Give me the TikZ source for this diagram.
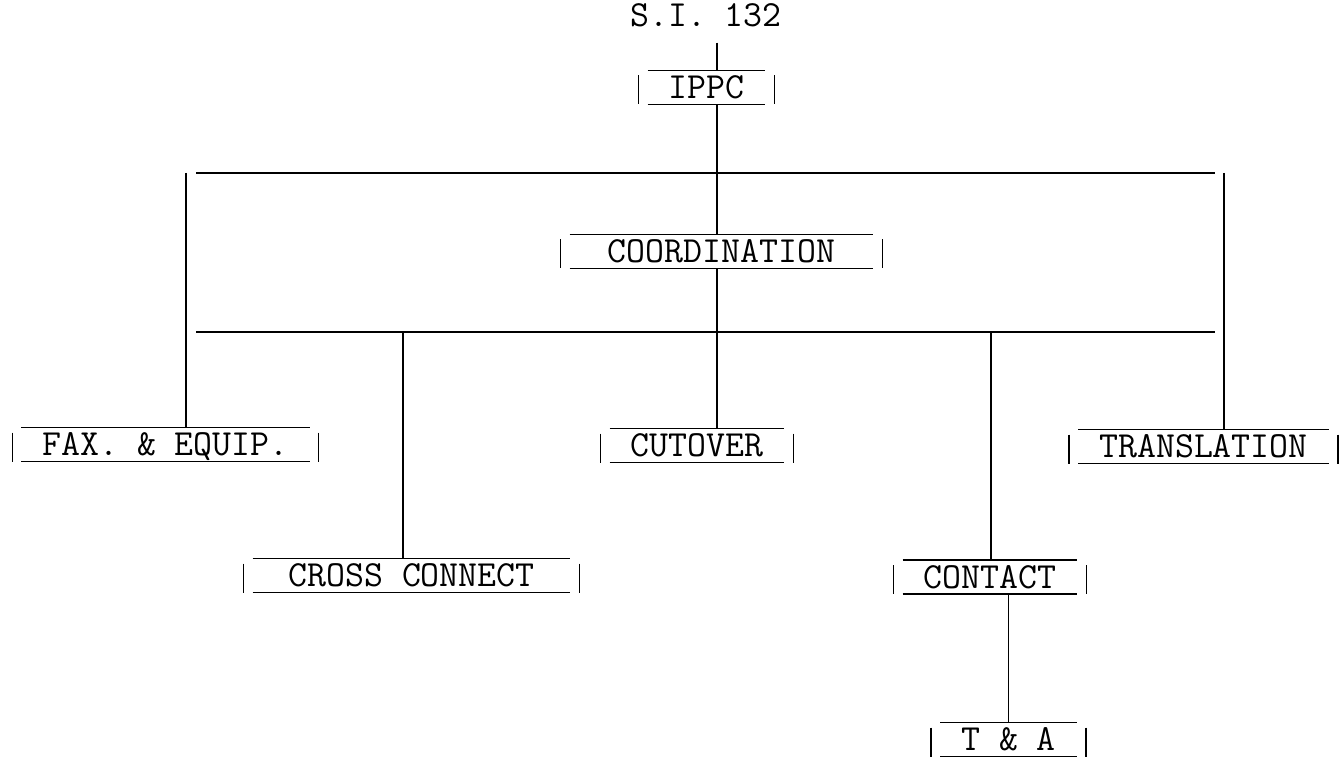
\documentclass[tikz,border=0pt]{standalone}
\usepackage{tikz}
\usepackage{xcolor}

% typed label: over- and underline plus the two side bars
\newcommand\typebox[4][]{%
  \node[tlabel, #1] (#2) at (#3) {#4};
  \draw[conn] (#2.north west) -- (#2.north east)
              (#2.south west) -- (#2.south east);
  \draw[conn] ([xshift=-4.5pt,yshift=-2.5pt]#2.north west) -- ([xshift=-4.5pt]#2.south west)
              ([xshift=4.5pt,yshift=-2.5pt]#2.north east) -- ([xshift=4.5pt]#2.south east);
}

\begin{document}
\begin{tikzpicture}[
    x=0.5pt, y=-0.5pt,
    every node/.style={font=\fontsize{18.4}{20}\fontseries{l}\selectfont\ttfamily},
    tlabel/.style={inner xsep=10.3pt, inner ysep=2.7pt,
                   text height=11.2pt, text depth=0pt},
    conn/.style={draw, line width=0.8pt},
]
\useasboundingbox (0,0) rectangle (1344,759);

%% Top of the chart
\node[inner xsep=0pt, inner ysep=8pt, text height=11.2pt, text depth=0pt]
      (si) at (706,15) {S.I. 132};
\typebox{ippc}{706.5,87.5}{IPPC}

%% Middle
\typebox[minimum width=151.5pt]{coord}{721.5,251.5}{COORDINATION}

%% Bottom rows
\typebox{fax}{165.5,444.5}{FAX. \& EQUIP.}
\typebox{cutover}{697,445.5}{CUTOVER}
\typebox{trans}{1203.5,446.5}{TRANSLATION}
\typebox[minimum width=158.5pt]{cross}{411.5,575.5}{CROSS CONNECT}
\typebox{contact}{990,577}{CONTACT}
\typebox{ta}{1008.5,739.5}{T \& A}

%% Frame and branch points
\coordinate (trunk) at (717,0);
\coordinate (topL) at (186,173);
\coordinate (topR) at (1224,173);
\coordinate (botL) at (186,332);
\coordinate (botR) at (1224,332);
\coordinate (crossx) at (403,332);
\coordinate (contx) at (991,332);

%% Connectors
\draw[conn] (trunk |- si.south) -- (trunk |- ippc.north);
\draw[conn] (trunk |- ippc.south) -- (trunk |- coord.north);
\draw[conn] (trunk |- coord.south) -- (trunk |- cutover.north);
\draw[conn, shorten <=5pt, shorten >=4.5pt] (topL) -- (topR);
\draw[conn, shorten <=5pt, shorten >=4.5pt] (botL) -- (botR);
\draw[conn] (topL) -- (topL |- fax.north);
\draw[conn] (topR) -- (topR |- trans.north);
\draw[conn] (crossx) -- (crossx |- cross.north);
\draw[conn] (contx) -- (contx |- contact.north);
\draw[conn] (contact.south -| ta.north) -- (ta.north);

\end{tikzpicture}
\end{document}
